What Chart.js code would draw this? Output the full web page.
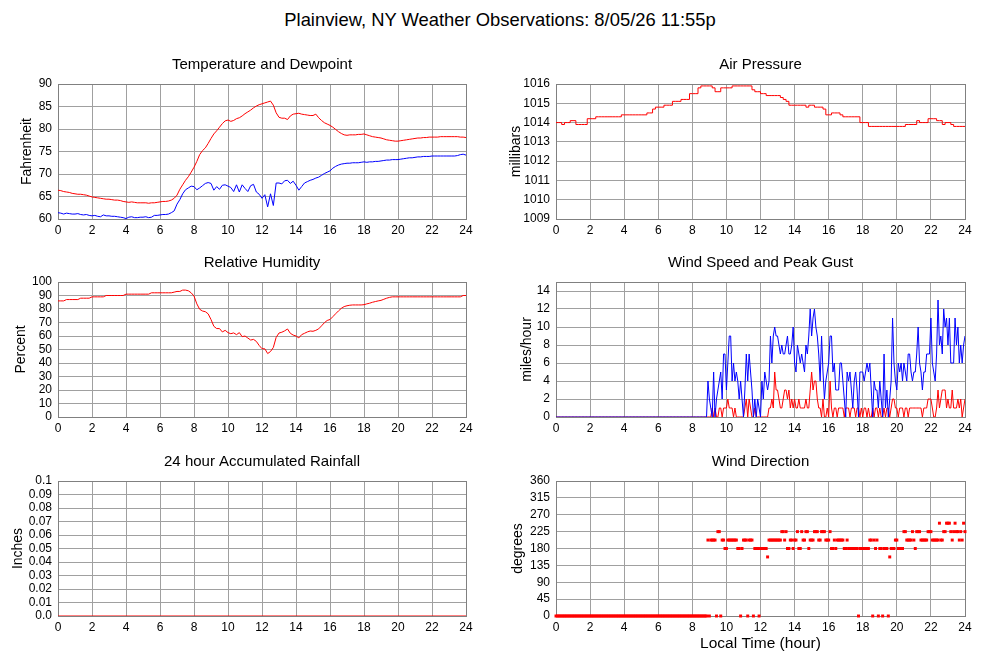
<!DOCTYPE html>
<html lang="en">
<head>
<meta charset="UTF-8">
<title>Plainview, NY Weather Observations</title>
<script src="https://cdn.jsdelivr.net/npm/chart.js"></script>
<style>
  body { margin: 0; background: #fff; font-family: "Liberation Sans", Arial, sans-serif; }
  #page { position: relative; width: 1000px; height: 660px; overflow: hidden; background: #fff; }
  #titulo { position: absolute; left: 0; top: 9px; width: 1000px; text-align: center; font-size: 18.4px; line-height: 22px; color: #000; }
  canvas { position: absolute; }
</style>
</head>
<body>
<div id="page">
  <div id="titulo">Plainview, NY Weather Observations: 8/05/26 11:55p</div>
  <canvas id="chartTemp" width="490" height="190" style="left:0;top:50px"></canvas>
  <canvas id="chartPressao" width="502" height="190" style="left:498px;top:50px"></canvas>
  <canvas id="chartUmidade" width="490" height="190" style="left:0;top:248px"></canvas>
  <canvas id="chartVento" width="502" height="190" style="left:498px;top:248px"></canvas>
  <canvas id="chartChuva" width="490" height="190" style="left:0;top:447px"></canvas>
  <canvas id="chartDirecao" width="502" height="213" style="left:498px;top:447px"></canvas>
</div>

<script>
// readings every 10 minutes, 0h .. 24h (one row per hour)
var tempF = [
  66.4, 66.3, 66.1, 66.0, 65.9, 65.7,
  65.6, 65.5, 65.5, 65.4, 65.3, 65.1,
  64.9, 64.8, 64.7, 64.6, 64.5, 64.4,
  64.4, 64.3, 64.2, 64.2, 64.1, 63.9,
  63.8, 63.7, 63.8, 63.7, 63.6, 63.6,
  63.6, 63.6, 63.5, 63.6, 63.6, 63.7,
  63.8, 63.9, 63.9, 64.0, 64.2, 64.6,
  65.3, 66.6, 67.6, 68.6, 69.4, 70.4,
  71.5, 72.8, 74.3, 75.2, 75.8, 76.8,
  77.9, 78.9, 79.6, 80.4, 81.2, 81.8,
  82.0, 81.7, 81.9, 82.3, 82.5, 82.9,
  83.4, 83.8, 84.2, 84.7, 85.1, 85.4,
  85.6, 85.8, 86.0, 86.2, 85.3, 83.6,
  82.6, 82.4, 82.4, 82.1, 82.9, 83.3,
  83.4, 83.5, 83.3, 83.2, 83.1, 83.0,
  83.0, 83.3, 82.5, 81.9, 81.4, 81.1,
  80.8, 80.4, 79.9, 79.4, 79.0, 78.7,
  78.6, 78.7, 78.7, 78.7, 78.8, 78.8,
  78.9, 78.7, 78.5, 78.3, 78.2, 78.1,
  78.0, 77.8, 77.6, 77.5, 77.4, 77.3,
  77.3, 77.4, 77.5, 77.6, 77.7, 77.8,
  77.9, 78.0, 78.0, 78.1, 78.1, 78.2,
  78.2, 78.2, 78.2, 78.3, 78.3, 78.3,
  78.3, 78.3, 78.3, 78.3, 78.2, 78.2,
  78.1
];
var dewF = [
  61.4, 61.3, 61.1, 61.3, 61.2, 61.1,
  61.1, 61.2, 61.0, 60.9, 61.0, 60.8,
  60.7, 60.8, 60.6, 60.5, 60.9, 60.7,
  60.7, 60.6, 60.6, 60.5, 60.4, 60.3,
  60.1, 60.4, 60.5, 60.3, 60.3, 60.4,
  60.4, 60.5, 60.3, 60.4, 60.8, 60.8,
  60.9, 61.0, 61.0, 61.1, 61.4, 61.8,
  63.3, 64.3, 65.6, 66.5, 66.9, 67.3,
  67.2, 66.5, 66.9, 67.4, 67.9, 68.1,
  67.9, 66.4, 67.2, 66.6, 67.5, 67.6,
  67.3, 67.0, 66.1, 67.6, 66.0, 67.6,
  66.8, 66.1, 67.4, 67.7, 66.0, 65.5,
  64.6, 65.4, 62.7, 65.6, 63.0, 68.0,
  68.0, 67.8, 68.5, 68.6, 67.9, 68.4,
  67.5, 66.4, 67.2, 68.0, 68.3, 68.6,
  68.8, 69.1, 69.3, 69.7, 70.1, 70.4,
  70.7, 71.3, 71.7, 72.0, 72.2, 72.3,
  72.4, 72.4, 72.5, 72.5, 72.5, 72.6,
  72.7, 72.6, 72.7, 72.7, 72.8, 72.8,
  72.9, 73.0, 73.1, 73.1, 73.2, 73.2,
  73.2, 73.3, 73.4, 73.5, 73.6, 73.6,
  73.7, 73.8, 73.8, 73.9, 73.9, 73.9,
  74.0, 74.0, 74.0, 74.0, 74.0, 74.0,
  74.0, 74.0, 74.0, 74.1, 74.3, 74.4,
  74.2
];
var humidity = [
  86, 86, 86, 87, 87, 87,
  87, 87, 88, 88, 88, 88,
  89, 89, 89, 89, 89, 90,
  90, 90, 90, 90, 90, 90,
  91, 91, 91, 91, 91, 91,
  91, 91, 91, 92, 92, 92,
  92, 92, 92, 92, 92, 92.5,
  93, 93, 94, 94, 93.5, 92,
  89.6, 83.8, 79.8, 78.5, 78.0, 76.4,
  72.2, 67.2, 65.5, 65.5, 63.0, 64.2,
  62.5, 61.7, 62.3, 61.0, 62.5, 59.5,
  60.0, 58.5, 57.0, 57.5, 56.0, 53.0,
  50.6, 50.5, 47.0, 48.5, 51.5, 59.0,
  62.2, 62.8, 63.8, 65.2, 62.0, 60.7,
  60.0, 58.6, 61.0, 62.0, 63.0, 63.7,
  63.5, 64.2, 65.3, 67.5, 69.8, 71.5,
  72.2, 74.3, 76.5, 78.6, 80.5, 81.8,
  82.4, 82.8, 83, 83, 83, 83,
  83.2, 83.8, 84.3, 85, 85.5, 86,
  86.4, 87.2, 88, 88.6, 89, 89,
  89, 89, 89, 89, 89, 89,
  89, 89, 89, 89, 89, 89,
  89, 89, 89, 89, 89, 89,
  89, 89, 89, 89, 89, 90,
  90
];
var pressure = [
  1014.0, 1014.0, 1014.0, 1013.9, 1014.0, 1014.0,
  1014.1, 1014.1, 1013.9, 1013.9, 1013.9, 1013.9,
  1014.2, 1014.2, 1014.2, 1014.3, 1014.3, 1014.3,
  1014.3, 1014.3, 1014.3, 1014.3, 1014.3, 1014.3,
  1014.4, 1014.4, 1014.4, 1014.4, 1014.4, 1014.4,
  1014.4, 1014.4, 1014.4, 1014.5, 1014.5, 1014.7,
  1014.8, 1014.8, 1014.8, 1014.9, 1014.9, 1014.9,
  1015.1, 1015.1, 1015.1, 1015.2, 1015.2, 1015.2,
  1015.5, 1015.5, 1015.5, 1015.8, 1015.9, 1015.9,
  1015.9, 1015.9, 1015.8, 1015.6, 1015.6, 1015.8,
  1015.8, 1015.8, 1015.8, 1015.9, 1015.9, 1015.9,
  1015.9, 1015.9, 1015.9, 1015.9, 1015.7, 1015.6,
  1015.6, 1015.5, 1015.5, 1015.4, 1015.4, 1015.4,
  1015.4, 1015.4, 1015.3, 1015.2, 1015.1, 1014.9,
  1014.9, 1014.9, 1014.9, 1014.9, 1014.9, 1014.8,
  1014.9, 1014.9, 1014.8, 1014.8, 1014.8, 1014.7,
  1014.4, 1014.4, 1014.5, 1014.5, 1014.5, 1014.4,
  1014.3, 1014.3, 1014.3, 1014.3, 1014.3, 1014.3,
  1014.0, 1014.0, 1014.0, 1013.8, 1013.8, 1013.8,
  1013.8, 1013.8, 1013.8, 1013.8, 1013.8, 1013.8,
  1013.8, 1013.8, 1013.8, 1013.8, 1013.9, 1013.9,
  1013.9, 1013.9, 1014.1, 1014.0, 1014.0, 1014.0,
  1014.2, 1014.2, 1014.2, 1014.1, 1014.1, 1013.9,
  1014.0, 1014.0, 1013.9, 1013.8, 1013.8, 1013.8,
  1013.8
];
// hourly accumulated rain
var rainIn = [0, 0, 0, 0, 0, 0, 0, 0, 0, 0, 0, 0, 0, 0, 0, 0, 0, 0, 0, 0, 0, 0, 0, 0, 0];

// readings every 5 minutes, 0h .. 24h (one row per hour)
var windGust = [
  0, 0, 0, 0, 0, 0, 0, 0, 0, 0, 0, 0,
  0, 0, 0, 0, 0, 0, 0, 0, 0, 0, 0, 0,
  0, 0, 0, 0, 0, 0, 0, 0, 0, 0, 0, 0,
  0, 0, 0, 0, 0, 0, 0, 0, 0, 0, 0, 0,
  0, 0, 0, 0, 0, 0, 0, 0, 0, 0, 0, 0,
  0, 0, 0, 0, 0, 0, 0, 0, 0, 0, 0, 0,
  0, 0, 0, 0, 0, 0, 0, 0, 0, 0, 0, 0,
  0, 0, 0, 0, 0, 0, 0, 0, 0, 0, 0, 0,
  0, 0, 0, 0, 0, 0, 0, 0, 0, 0, 0, 4,
  2, 1, 0, 5, 0, 2, 3, 4, 5, 2, 7, 7,
  3, 6, 9, 9, 4, 6, 4, 5, 4, 2, 4, 2,
  0, 3, 7, 4, 7, 5, 3, 0, 2, 0, 2, 1,
  0, 4, 2, 5, 4, 3, 4, 9, 6, 9, 10, 9,
  9, 8, 7, 8, 7, 7, 8, 9, 7, 7, 8, 10,
  6, 5, 8, 7, 6, 7, 6, 5, 8, 7, 9, 12,
  9, 11, 12, 10, 9, 7, 4, 9, 5, 2, 4, 5,
  6, 9, 9, 5, 6, 3, 3, 3, 6, 6, 4, 2,
  0, 5, 4, 5, 3, 1, 4, 5, 3, 0, 5, 5,
  5, 4, 5, 6, 5, 6, 3, 0, 4, 3, 3, 1,
  4, 2, 0, 7, 1, 3, 0, 2, 4, 11, 6, 4,
  3, 6, 5, 6, 4, 6, 5, 4, 7, 7, 5, 4,
  5, 5, 7, 10, 6, 5, 3, 5, 5, 7, 7, 7,
  11, 6, 5, 4, 7, 13, 8, 9, 7, 12, 10, 11,
  8, 11, 6, 6, 6, 11, 8, 10, 6, 8, 6, 8,
  9
];
var windSpeed = [
  0, 0, 0, 0, 0, 0, 0, 0, 0, 0, 0, 0,
  0, 0, 0, 0, 0, 0, 0, 0, 0, 0, 0, 0,
  0, 0, 0, 0, 0, 0, 0, 0, 0, 0, 0, 0,
  0, 0, 0, 0, 0, 0, 0, 0, 0, 0, 0, 0,
  0, 0, 0, 0, 0, 0, 0, 0, 0, 0, 0, 0,
  0, 0, 0, 0, 0, 0, 0, 0, 0, 0, 0, 0,
  0, 0, 0, 0, 0, 0, 0, 0, 0, 0, 0, 0,
  0, 0, 0, 0, 0, 0, 0, 0, 0, 0, 0, 0,
  0, 0, 0, 0, 0, 0, 0, 0, 0, 0, 0, 0,
  0, 0, 1, 0, 1, 0, 0, 1, 1, 0, 1, 1,
  1, 2, 1, 1, 1, 0, 1, 0, 0, 0, 0, 0,
  0, 1, 2, 0, 2, 1, 0, 0, 1, 0, 0, 0,
  0, 0, 0, 0, 0, 0, 1, 1, 2, 1, 5, 3,
  3, 2, 1, 1, 2, 3, 3, 2, 3, 1, 2, 1,
  2, 1, 1, 2, 1, 1, 1, 1, 2, 1, 1, 3,
  5, 3, 4, 4, 2, 1, 1, 0, 2, 0, 0, 1,
  0, 4, 1, 0, 1, 1, 0, 1, 1, 1, 1, 0,
  1, 1, 1, 0, 1, 1, 1, 0, 1, 1, 0, 1,
  0, 1, 1, 0, 1, 0, 0, 1, 0, 1, 1, 0,
  1, 0, 0, 1, 0, 1, 1, 0, 1, 2, 2, 1,
  1, 0, 1, 1, 1, 0, 1, 1, 0, 1, 1, 1,
  1, 1, 1, 1, 1, 1, 0, 1, 1, 1, 2, 2,
  2, 1, 0, 0, 1, 3, 1, 2, 3, 3, 3, 1,
  2, 1, 1, 3, 1, 1, 1, 2, 1, 2, 0, 1,
  2
];
// null = no reading plotted
var windDir = [
  0, 0, 0, 0, 0, 0, 0, 0, 0, 0, 0, 0,
  0, 0, 0, 0, 0, 0, 0, 0, 0, 0, 0, 0,
  0, 0, 0, 0, 0, 0, 0, 0, 0, 0, 0, 0,
  0, 0, 0, 0, 0, 0, 0, 0, 0, 0, 0, 0,
  0, 0, 0, 0, 0, 0, 0, 0, 0, 0, 0, 0,
  0, 0, 0, 0, 0, 0, 0, 0, 0, 0, 0, 0,
  0, 0, 0, 0, 0, 0, 0, 0, 0, 0, 0, 0,
  0, 0, 0, 0, 0, 0, 0, 0, 0, 0, 0, 0,
  0, 0, 0, 0, 0, 0, 0, 0, 0, 0, 0, 202.5,
  0, 202.5, 202.5, 202.5, 202.5, 0, 225, 225, 0, 202.5, 202.5, 180,
  180, 202.5, 202.5, 202.5, 202.5, 202.5, 202.5, 202.5, 180, 180, 0, 180,
  202.5, 202.5, 202.5, 0, 202.5, 202.5, 202.5, 0, 180, 180, 180, 0,
  180, 180, 180, 180, 180, 157.5, 202.5, 202.5, 202.5, 202.5, 202.5, 202.5,
  202.5, 202.5, 202.5, 225, 225, 202.5, 225, 180, 180, 202.5, 202.5, 180,
  202.5, 202.5, 225, 180, 180, 225, 202.5, 202.5, 225, 225, 180, 202.5,
  202.5, 202.5, 225, 225, 225, 202.5, 202.5, 225, 225, 225, 202.5, 202.5,
  202.5, 225, 180, 180, 202.5, 180, 202.5, 202.5, 202.5, 202.5, 202.5, 180,
  180, 202.5, 180, 180, 180, 180, 180, 180, 180, 0, 180, 180,
  180, 180, 180, 180, 180, 202.5, 202.5, 0, 202.5, 180, 202.5, 0,
  180, 180, 0, 180, 180, 180, 0, 157.5, 180, 180, 180, 202.5,
  202.5, 180, 180, 180, 180, 225, 225, 202.5, 202.5, 202.5, 202.5, 225,
  202.5, 180, 225, 225, 225, 202.5, 202.5, 202.5, 202.5, 202.5, 225, 225,
  225, 202.5, 202.5, 202.5, 202.5, 202.5, 247.5, 202.5, 202.5, 225, 225, 247.5,
  247.5, 247.5, 225, 202.5, 225, 247.5, 225, 225, 202.5, 225, 202.5, 247.5,
  225
];

var fonte = '"Liberation Sans", Arial, sans-serif';
Chart.defaults.font.family = fonte;
Chart.defaults.color = '#000';

// x = hours since midnight, one value per step
function pontos(valores, passoHoras) {
    return valores
        .map((v, i) => ({ x: i * passoHoras, y: v }))
        .filter(p => p.y !== null);
}

function linha(valores, passo, cor, extra) {
    return Object.assign({
        data: pontos(valores, passo),
        borderColor: cor,
        borderWidth: 1,
        pointRadius: 0,
        tension: 0,
        fill: false
    }, extra || {});
}

// frame round the plot area, under the data lines
var moldura = {
    id: 'moldura',
    beforeDatasetsDraw(chart) {
        const a = chart.chartArea, ctx = chart.ctx;
        ctx.save();
        ctx.strokeStyle = '#808080';
        ctx.lineWidth = 1;
        ctx.strokeRect(a.left + 0.5, a.top + 0.5, a.right - a.left, a.bottom - a.top);
        ctx.restore();
    }
};

function criarPainel(id, cfg) {
    return new Chart(document.getElementById(id), {
        type: 'line',
        data: { datasets: cfg.datasets },
        options: {
            responsive: false,
            animation: false,
            events: [],
            layout: { padding: { left: 0, top: 0, bottom: 0, right: cfg.padDireita } },
            plugins: {
                legend: { display: false },
                tooltip: { enabled: false },
                title: {
                    display: true,
                    text: cfg.titulo,
                    fullSize: false,
                    color: '#000',
                    font: { size: 15, weight: 'normal', family: fonte },
                    padding: { top: 5.5, bottom: 10.5 }
                }
            },
            scales: {
                x: {
                    type: 'linear',
                    min: 0,
                    max: 24,
                    ticks: { stepSize: 2, padding: 4, maxRotation: 0, autoSkip: false, font: { size: 12 }, color: '#000' },
                    grid: { color: '#a0a0a0', drawTicks: false },
                    border: { display: false },
                    title: cfg.tituloX || { display: false },
                    afterFit: s => { s.height = cfg.alturaX || 21; }
                },
                y: {
                    min: cfg.yMin,
                    max: cfg.yMax,
                    ticks: {
                        stepSize: cfg.yPasso,
                        includeBounds: false,
                        padding: 6,
                        autoSkip: false,
                        font: { size: 12 },
                        color: '#000',
                        callback: cfg.formato || (v => String(v))
                    },
                    grid: { color: '#a0a0a0', drawTicks: false },
                    border: { display: false },
                    title: {
                        display: true,
                        text: cfg.tituloY,
                        color: '#000',
                        font: { size: 14 },
                        padding: { top: cfg.tituloYpad, bottom: 0 }
                    },
                    afterFit: s => { s.width = 58; }
                }
            }
        },
        plugins: [moldura]
    });
}

criarPainel('chartTemp', {
    titulo: 'Temperature and Dewpoint', tituloY: 'Fahrenheit', tituloYpad: 18.6,
    yMin: 60, yMax: 90, yPasso: 5, padDireita: 24,
    datasets: [linha(tempF, 1 / 6, '#ff0000'), linha(dewF, 1 / 6, '#0000ff')]
});

criarPainel('chartPressao', {
    titulo: 'Air Pressure', tituloY: 'millibars', tituloYpad: 9.4,
    yMin: 1009, yMax: 1016, yPasso: 1, padDireita: 35,
    datasets: [linha(pressure, 1 / 6, '#ff0000', { stepped: 'after' })]
});

criarPainel('chartUmidade', {
    titulo: 'Relative Humidity', tituloY: 'Percent', tituloYpad: 12.9,
    yMin: 0, yMax: 100, yPasso: 10, padDireita: 24,
    datasets: [linha(humidity, 1 / 6, '#ff0000')]
});

criarPainel('chartVento', {
    titulo: 'Wind Speed and Peak Gust', tituloY: 'miles/hour', tituloYpad: 20.8,
    yMin: 0, yMax: 15, yPasso: 2, padDireita: 35,
    datasets: [linha(windGust, 1 / 12, '#0000ff'), linha(windSpeed, 1 / 12, '#ff0000')]
});

criarPainel('chartChuva', {
    titulo: '24 hour Accumulated Rainfall', tituloY: 'Inches', tituloYpad: 9.3,
    yMin: 0, yMax: 0.1, yPasso: 0.01, padDireita: 24,
    formato: v => {
        const n = Math.round(v * 100);
        return n === 0 ? '0.0' : (n === 10 ? '0.1' : (n / 100).toFixed(2));
    },
    datasets: [linha(rainIn, 1, '#ff0000')]
});

criarPainel('chartDirecao', {
    titulo: 'Wind Direction', tituloY: 'degrees', tituloYpad: 11.3,
    yMin: 0, yMax: 360, yPasso: 45, padDireita: 35,
    alturaX: 44,
    tituloX: { display: true, text: 'Local Time (hour)', color: '#000', font: { size: 15.5 }, padding: { top: 0, bottom: 6.8 } },
    datasets: [{
        data: pontos(windDir, 1 / 12),
        showLine: false,
        pointStyle: 'rect',
        pointRadius: 2.1,
        pointBorderWidth: 0,
        pointBackgroundColor: '#ff0000',
        borderColor: '#ff0000',
        clip: false
    }]
});
</script>
</body>
</html>
